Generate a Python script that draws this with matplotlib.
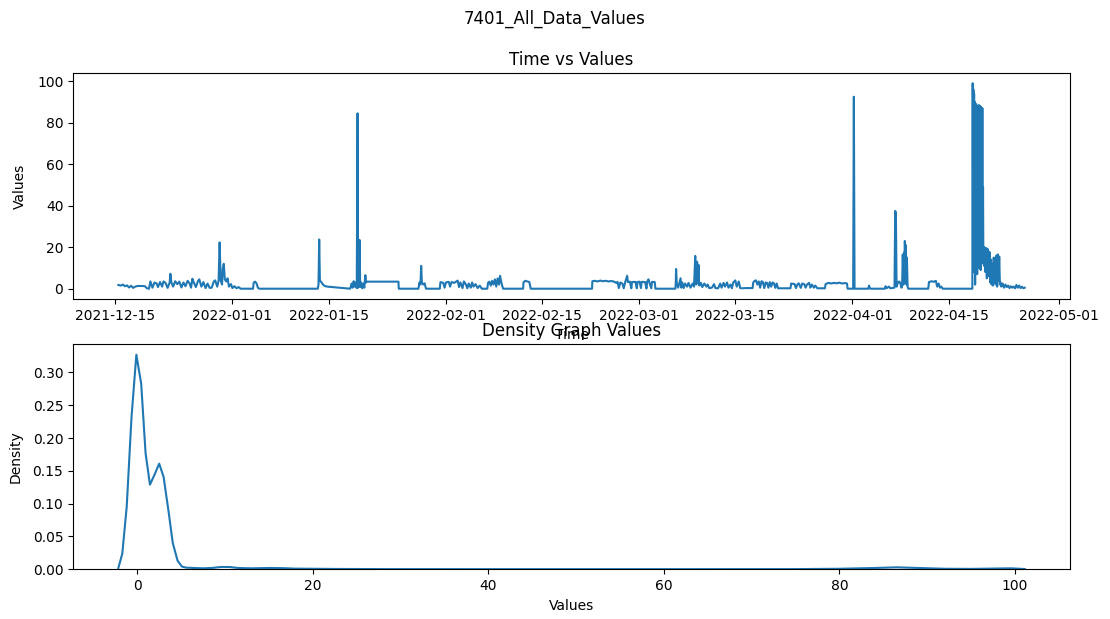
import matplotlib
matplotlib.use("Agg")
import matplotlib.pyplot as plt
import matplotlib.dates as mdates
import numpy as np
import pandas as pd

# Sensor 7401 readings, split by calendar month.
# Times are given as day offsets from the first reading date.
START = pd.Timestamp("2021-12-15")

dec_days = [0.45, 0.8, 1.1, 1.4, 1.7, 2.0, 2.3, 2.6, 2.9, 3.2,
            3.5, 4.0, 4.3, 4.6, 4.9, 5.1, 5.4, 5.7, 6.0, 6.2,
            6.5, 6.8, 7.0, 7.3, 7.6, 7.9, 8.0, 8.15, 8.4, 8.7,
            9.0, 9.3, 9.6, 9.9, 10.2, 10.5, 10.8, 11.0, 11.2, 11.4,
            11.7, 12.0, 12.2, 12.5, 12.8, 13.1, 13.4, 13.7, 14.0, 14.3,
            14.5, 14.8, 15.0, 15.15, 15.3, 15.5, 15.6, 15.75, 15.9, 16.1,
            16.3, 16.5, 16.8]
dec_vals = [1.8, 1.5, 2.0, 1.2, 1.6, 0.6, 1.4, 0.4, 1.0, 1.3,
            1.3, 1.3, 1.2, 0.2, 0.0, 3.5, 0.5, 3.0, 2.5, 0.8,
            3.2, 1.0, 3.5, 2.8, 0.4, 3.0, 7.2, 3.0, 1.0, 3.6,
            2.2, 3.4, 0.6, 3.0, 1.2, 3.8, 2.5, 0.5, 4.8, 3.0,
            0.8, 3.6, 4.5, 1.0, 3.2, 0.3, 2.5, 0.4, 0.5, 3.5,
            4.0, 1.0, 4.0, 22.3, 4.0, 2.0, 9.5, 12.0, 4.5, 3.5,
            5.0, 1.0, 2.2]

jan_days = [17.0, 17.3, 17.6, 17.9, 18.2, 20.0, 20.1, 20.3, 20.5, 20.7,
            20.9, 29.4, 29.5, 29.6, 29.7, 29.9, 30.2, 30.5, 30.8, 34.1,
            34.3, 34.45, 34.6, 34.75, 34.9, 35.05, 35.17, 35.25, 35.35, 35.46,
            35.55, 35.7, 35.85, 36.0, 36.15, 36.3, 36.4, 36.5, 41.1, 41.15,
            44.0, 44.15, 44.3, 44.4, 44.5, 44.7, 44.9, 45.1, 47.1, 47.2,
            47.6, 47.8]
jan_vals = [0.3, 1.2, 0.2, 0.8, 0.0, 0.0, 3.0, 3.4, 2.6, 0.5,
            0.0, 0.0, 2.0, 23.7, 4.0, 3.2, 1.8, 1.2, 1.0, 0.0,
            2.5, 0.5, 3.6, 1.0, 3.0, 0.3, 84.5, 0.5, 2.5, 23.5,
            0.8, 3.0, 0.2, 2.5, 0.5, 6.5, 3.0, 3.4, 3.4, 0.0,
            0.0, 3.0, 2.0, 11.0, 3.0, 2.0, 2.6, 0.0, 0.0, 3.2,
            2.8, 0.5]

feb_days = [48.0, 48.4, 48.6, 48.8, 49.2, 49.5, 49.7, 49.9, 50.1, 50.4,
            50.6, 50.9, 51.1, 51.3, 51.6, 51.8, 52.0, 52.3, 52.6, 52.9,
            53.2, 54.0, 54.1, 54.3, 54.5, 54.7, 54.9, 55.1, 55.3, 55.5,
            55.7, 55.85, 56.0, 56.2, 56.3, 59.2, 59.25, 59.5, 59.8, 60.1,
            60.3, 69.2, 69.25, 69.6, 70.0, 70.4, 70.8, 71.2, 71.6, 72.0,
            72.4, 72.7, 72.9, 73.1, 73.3, 73.6, 73.8, 74.0, 74.3, 74.4,
            74.7, 74.9, 75.0, 75.5, 75.7, 75.8]
feb_vals = [3.0, 3.3, 1.0, 3.2, 2.8, 3.5, 3.9, 0.8, 3.0, 0.3,
            3.5, 2.0, 0.2, 2.5, 0.5, 3.0, 1.0, 2.2, 0.3, 1.5,
            0.0, 0.0, 2.8, 3.4, 1.5, 3.8, 2.0, 4.5, 1.0, 5.0,
            2.0, 6.2, 3.5, 1.0, 0.0, 0.0, 3.0, 3.8, 3.5, 3.2,
            0.0, 0.0, 3.6, 3.8, 3.5, 3.9, 3.6, 3.8, 3.5, 3.7,
            3.4, 2.8, 3.3, 0.3, 3.0, 2.5, 0.2, 3.0, 6.2, 3.2,
            3.4, 0.2, 3.2, 3.3, 0.2, 3.2]

mar_days = [76.1, 76.3, 76.4, 76.9, 77.1, 77.2, 77.4, 77.5, 77.8, 77.9,
            78.3, 78.4, 81.3, 81.35, 81.4, 81.5, 81.7, 81.9, 82.05, 82.15,
            82.3, 82.5, 82.7, 83.0, 83.2, 83.5, 83.8, 84.0, 84.18, 84.3,
            84.45, 84.55, 84.65, 84.75, 85.0, 85.2, 85.5, 85.8, 86.0, 86.2,
            86.6, 86.9, 87.1, 87.5, 87.8, 88.0, 88.3, 88.5, 88.8, 89.0,
            89.3, 89.5, 89.7, 90.0, 90.2, 90.5, 90.7, 91.0, 91.5, 92.5,
            92.6, 92.8, 93.0, 93.2, 93.4, 93.6, 93.8, 94.0, 94.2, 94.4,
            94.6, 94.8, 95.0, 95.2, 95.4, 95.6, 95.8, 96.0, 96.2, 98.0,
            98.1, 98.6, 98.8, 99.0, 99.2, 99.5, 99.7, 100.0, 100.2, 100.4,
            100.7, 100.9, 101.1, 101.4, 101.6, 101.9, 103.0, 103.1, 103.5, 103.9,
            104.3, 104.7, 105.1, 105.5, 105.9, 106.2, 106.3]
mar_vals = [3.4, 0.3, 3.3, 3.2, 0.1, 3.4, 4.5, 3.2, 0.2, 3.3,
            3.2, 0.0, 0.0, 2.5, 9.5, 2.5, 0.5, 3.0, 5.0, 0.5,
            3.0, 0.3, 2.5, 1.0, 2.8, 0.5, 2.5, 1.0, 15.8, 2.0,
            13.0, 2.5, 11.5, 1.5, 2.8, 0.8, 2.5, 1.0, 2.0, 0.3,
            0.5, 2.2, 0.3, 0.2, 2.5, 0.5, 2.8, 1.0, 3.0, 0.5,
            2.0, 0.2, 3.0, 4.0, 1.0, 3.5, 0.3, 0.2, 0.3, 0.3,
            3.0, 3.8, 4.0, 2.0, 3.5, 0.5, 3.6, 3.2, 0.3, 3.0,
            2.8, 0.5, 3.2, 1.0, 3.0, 2.6, 0.4, 2.5, 0.2, 0.2,
            2.5, 2.2, 0.3, 2.0, 2.6, 0.4, 2.5, 2.2, 0.5, 2.0,
            2.8, 0.5, 2.0, 0.5, 1.5, 0.2, 0.2, 2.2, 2.8, 2.5,
            2.8, 2.6, 2.9, 2.5, 2.7, 2.5, 0.0]

apr_days = [107.1, 107.2, 107.3, 109.3, 109.4, 109.5, 109.6, 111.7, 111.8, 112.0,
            112.3, 112.5, 113.1, 113.2, 113.3, 113.4, 113.6, 113.8, 114.0, 114.1,
            114.2, 114.3, 114.4, 114.5, 114.55, 114.6, 114.7, 114.75, 114.85, 114.9,
            115.0, 115.1, 118.0, 118.1, 118.5, 118.8, 119.1, 119.3, 119.5, 119.7,
            119.9, 120.1, 124.4, 124.45, 124.5, 124.55, 124.6, 124.65, 124.7, 124.75,
            124.8, 124.85, 124.9, 124.95, 125.0, 125.05, 125.1, 125.15, 125.2, 125.25,
            125.3, 125.35, 125.4, 125.45, 125.5, 125.55, 125.6, 125.65, 125.7, 125.75,
            125.8, 125.85, 125.9, 125.95, 126.0, 126.05, 126.1, 126.15, 126.2, 126.25,
            126.3, 126.35, 126.4, 126.45, 126.5, 126.55, 126.6, 126.65, 126.7, 126.75,
            126.8, 126.85, 126.9, 126.95, 127.0, 127.1, 127.2, 127.3, 127.4, 127.5,
            127.6, 127.7, 127.8, 127.9, 128.0, 128.1, 128.2, 128.3, 128.4, 128.5,
            128.6, 128.8, 129.0, 129.2, 129.4, 129.6, 129.8, 130.0, 130.2, 130.4,
            130.6, 130.8, 131.0, 131.2, 131.4, 131.6, 131.8, 132.0]
apr_vals = [0.0, 92.5, 0.0, 0.0, 1.5, 0.5, 0.0, 0.0, 1.2, 0.3,
            1.0, 0.2, 0.5, 37.5, 36.5, 1.0, 3.0, 3.5, 2.0, 0.5,
            1.0, 16.5, 2.0, 17.5, 5.0, 23.0, 3.0, 21.0, 2.0, 15.0,
            1.0, 0.0, 0.0, 3.2, 3.6, 3.3, 3.8, 1.0, 2.5, 0.5,
            1.0, 0.0, 0.0, 99.0, 12.0, 96.0, 8.0, 94.0, 15.0, 90.0,
            2.0, 88.0, 10.0, 89.0, 12.0, 87.5, 7.0, 88.0, 14.0, 87.0,
            10.0, 88.5, 12.0, 87.0, 15.0, 88.0, 9.0, 87.5, 13.0, 86.5,
            16.0, 87.0, 18.0, 49.0, 12.0, 19.5, 11.0, 20.0, 13.0, 19.0,
            8.0, 18.5, 12.0, 19.5, 5.0, 17.0, 10.0, 19.0, 12.0, 18.0,
            6.0, 16.0, 11.0, 17.5, 3.0, 14.0, 2.0, 12.0, 1.5, 15.0,
            3.0, 10.0, 2.0, 16.0, 1.0, 16.5, 4.0, 15.5, 2.0, 3.0,
            1.0, 2.5, 0.5, 2.0, 0.8, 1.5, 0.3, 1.2, 0.5, 1.0,
            0.2, 1.8, 0.5, 1.5, 0.3, 1.0, 0.2, 0.5]

# Kernel density estimate of the readings (value, density)
kde_values = [-2.15, -1.7, -1.2, -0.65, -0.1, 0.45, 0.95, 1.45, 2.0, 2.5,
              3.0, 3.55, 4.05, 4.6, 5.1, 5.6, 6.5, 7.5, 8.5, 9.5,
              10.5, 11.5, 13.0, 15.0, 16.5, 18.0, 20.0, 23.0, 28.0, 40.0,
              60.0, 75.0, 80.0, 84.0, 86.5, 89.0, 92.0, 95.0, 98.0, 99.5,
              101.1]
kde_density = [0.002, 0.024, 0.095, 0.232, 0.327, 0.283, 0.177, 0.129, 0.145, 0.161,
               0.141, 0.090, 0.040, 0.013, 0.004, 0.0025, 0.002, 0.0015, 0.002, 0.0035,
               0.0035, 0.002, 0.0015, 0.002, 0.0018, 0.001, 0.0008, 0.0005, 0.0003, 0.0002,
               0.0002, 0.0003, 0.0008, 0.002, 0.003, 0.002, 0.0008, 0.0006, 0.0012, 0.0015,
               0.0004]

days = dec_days + jan_days + feb_days + mar_days + apr_days
vals = dec_vals + jan_vals + feb_vals + mar_vals + apr_vals
assert len(days) == len(vals)
times = START + pd.to_timedelta(np.array(days), unit="D")

color = "#1f77b4"
fig = plt.figure(figsize=(11.1, 6.19), dpi=100)
fig.suptitle("7401_All_Data_Values", fontsize=12, y=0.985)

ax1 = fig.add_axes([0.0658, 0.5170, 0.8982, 0.3651])
ax1.plot(times, vals, color=color, lw=1.5)
ax1.set_title("Time vs Values")
ax1.set_xlabel("Time")
ax1.set_ylabel("Values", labelpad=7.5)
ax1.xaxis.set_major_locator(mdates.DayLocator(bymonthday=[1, 15]))
ax1.xaxis.set_major_formatter(mdates.DateFormatter("%Y-%m-%d"))

ax2 = fig.add_axes([0.0658, 0.0803, 0.8982, 0.3640])
ax2.plot(kde_values, kde_density, color=color, lw=1.5)
ax2.set_ylim(0, max(kde_density) * 1.05)
ax2.set_title("Density Graph Values")
ax2.set_xlabel("Values")
ax2.set_ylabel("Density", labelpad=7.0)

fig.savefig("out.png", dpi=100)
